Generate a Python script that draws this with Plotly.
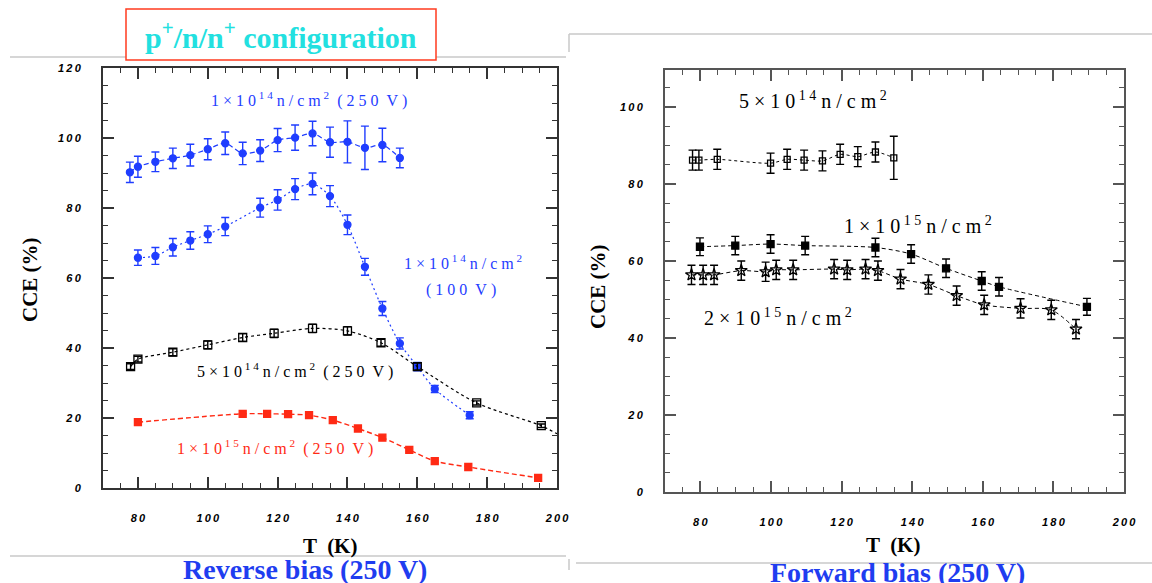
import plotly.graph_objects as go

# ---------------- Reverse bias panel data ----------------
rev_T_1e14_250 = [77.7, 80, 85, 90, 95, 100, 105, 110, 115, 120, 125, 130, 135, 140, 145, 150, 155]
rev_cce_1e14_250 = [90.2, 91.8, 93.2, 94.2, 95.1, 96.8, 98.5, 95.6, 96.4, 99.4, 100.1, 101.3, 98.8, 98.9, 97.2, 98.0, 94.3]
rev_err_1e14_250 = [2.9, 3.0, 2.8, 2.9, 3.1, 3.0, 3.2, 3.2, 3.1, 3.3, 3.6, 3.5, 4.3, 6.0, 6.2, 4.8, 2.8]

rev_T_1e14_100 = [80, 85, 90, 95, 100, 105, 115, 120, 125, 130, 135, 140, 145, 150, 155, 160, 165, 175]
rev_cce_1e14_100 = [65.8, 66.3, 68.8, 70.7, 72.5, 74.7, 80.1, 82.3, 85.4, 86.9, 83.4, 75.2, 63.2, 51.3, 41.3, 34.7, 28.3, 20.8]
rev_err_1e14_100 = [2.2, 2.4, 2.5, 2.5, 2.4, 2.6, 2.7, 2.9, 3.0, 3.1, 3.0, 2.8, 2.4, 2.0, 1.6, 1.2, 1.0, 1.0]

rev_T_5e14 = [77.9, 80, 90, 100, 110, 119, 130, 140, 149.6, 160, 177, 195.5]
rev_cce_5e14 = [34.7, 36.8, 38.8, 40.9, 43.0, 44.2, 45.6, 44.9, 41.5, 34.7, 24.3, 17.8]
rev_err_5e14 = [0.8, 0.8, 1.0, 1.1, 1.1, 1.2, 1.2, 1.2, 1.0, 1.0, 0.6, 0.5]
rev_fit_tail_T_5e14 = [200]
rev_fit_tail_cce_5e14 = [15.5]

rev_T_1e15 = [80, 110, 117, 123, 129, 135.8, 143, 150, 157.7, 165, 174.6, 194.6]
rev_cce_1e15 = [18.8, 21.2, 21.2, 21.1, 20.8, 19.4, 17.0, 14.4, 10.9, 7.7, 6.0, 2.9]

# ---------------- Forward bias panel data ----------------
fwd_T_5e14 = [77.8, 79.6, 84.8, 99.9, 104.6, 109.4, 114.6, 119.6, 124.6, 129.6, 134.8]
fwd_cce_5e14 = [86.2, 86.2, 86.4, 85.4, 86.4, 86.2, 86.0, 87.7, 87.1, 88.3, 86.8]
fwd_err_5e14 = [2.6, 2.6, 2.6, 2.6, 2.6, 2.6, 2.6, 2.6, 2.6, 2.6, 5.6]

fwd_T_1e15 = [79.9, 89.9, 99.9, 109.7, 129.6, 139.7, 149.6, 159.7, 164.6, 189.5]
fwd_cce_1e15 = [63.7, 64.0, 64.4, 64.0, 63.5, 61.8, 58.1, 54.8, 53.3, 48.1]
fwd_err_1e15 = [2.3, 2.4, 2.4, 2.4, 2.4, 2.4, 2.4, 2.4, 2.4, 2.2]

fwd_T_2e15 = [77.5, 80.8, 83.9, 91.6, 98.5, 101.5, 106.3, 117.9, 121.6, 126.8, 130.3, 136.7,
              144.6, 152.6, 160.4, 170.7, 179.4, 186.4]
fwd_cce_2e15 = [56.4, 56.4, 56.4, 57.5, 57.2, 57.7, 57.7, 57.9, 57.7, 57.9, 57.5, 55.3,
                53.9, 51.0, 48.6, 47.7, 47.3, 42.3]
fwd_err_2e15 = [2.5] * len(fwd_T_2e15)

x_tick_vals = [80, 100, 120, 140, 160, 180, 200]
rev_y_tick_vals = [0, 20, 40, 60, 80, 100, 120]
fwd_y_tick_vals = [0, 20, 40, 60, 80, 100]

W, H = 1152, 583
BLUE = "#1f3dff"
RED = "#ff2a14"
SERIF = "Liberation Serif"
THIN = "\u2009"
WIDE = "\u2005"


def px(x):
    return x / W


def py(y):
    return 1 - y / H


def spaced(s, sep=THIN):
    """Insert small spaces between the visible characters of a label."""
    out, in_tag, first = "", False, True
    for ch in s:
        if ch == "<":
            in_tag = True
        if in_tag:
            out += ch
            if ch == ">":
                in_tag = False
            continue
        if not first and ch != " ":
            out += sep
        out += ch
        first = False
    return out


fig = go.Figure()


def add_series(T, cce, err, xa, ya, color, symbol, size, dash, lw=1.2, fill=True, line_tail=None):
    lx, ly = list(T), list(cce)
    if line_tail:
        lx += line_tail[0]
        ly += line_tail[1]
    fig.add_trace(go.Scatter(
        x=lx, y=ly, mode="lines", xaxis=xa, yaxis=ya, showlegend=False,
        line=dict(color=color, width=lw, dash=dash, shape="spline", smoothing=0.8),
        hoverinfo="skip"))
    fig.add_trace(go.Scatter(
        x=T, y=cce, mode="markers", xaxis=xa, yaxis=ya, showlegend=False,
        marker=dict(symbol=symbol, size=size, color=color if fill else "white",
                    line=dict(color=color, width=1.3)),
        error_y=dict(type="data", array=err, visible=True,
                     color=color, thickness=1.4, width=4) if err is not None else None))


# Reverse bias panel
add_series(rev_T_1e14_250, rev_cce_1e14_250, rev_err_1e14_250, "x", "y", BLUE, "circle", 7, "5px,3px")
add_series(rev_T_1e14_100, rev_cce_1e14_100, rev_err_1e14_100, "x", "y", BLUE, "circle", 7, "2px,3px")
add_series(rev_T_5e14, rev_cce_5e14, rev_err_5e14, "x", "y", "black", "square-open", 8, "3px,3px",
           line_tail=(rev_fit_tail_T_5e14, rev_fit_tail_cce_5e14))
add_series(rev_T_1e15, rev_cce_1e15, None, "x", "y", RED, "square", 7, "5px,3px", lw=1.4)

# Forward bias panel
add_series(fwd_T_5e14, fwd_cce_5e14, fwd_err_5e14, "x2", "y2", "black", "square-open", 6, "3px,3px", lw=1.0)
add_series(fwd_T_1e15, fwd_cce_1e15, fwd_err_1e15, "x2", "y2", "black", "square", 7, "4px,3px", lw=1.0)
add_series(fwd_T_2e15, fwd_cce_2e15, fwd_err_2e15, "x2", "y2", "black", "star-open", 9, "4px,3px", lw=1.0)


def axis(domain, rng, tickvals, anchor, color, standoff):
    return dict(
        domain=domain, range=rng, anchor=anchor, automargin=False,
        showline=True, linecolor=color, linewidth=2, mirror="ticks",
        ticks="inside", ticklen=11, tickwidth=1.5, tickcolor=color,
        tickvals=tickvals, ticktext=[spaced(str(v)) for v in tickvals],
        tickfont=dict(family="Liberation Sans", size=11, color="black", weight="bold", style="italic"),
        ticklabelstandoff=standoff,
        minor=dict(ticks="inside", ticklen=5, tickwidth=1.2, tickcolor=color, dtick=5, tick0=0, showgrid=False),
        showgrid=False, zeroline=False, fixedrange=True,
    )


fig.update_layout(
    width=W, height=H, autosize=False,
    margin=dict(l=0, r=0, t=0, b=0, pad=0, autoexpand=False),
    paper_bgcolor="white", plot_bgcolor="white",
    xaxis=axis([px(103), px(557)], [70, 200], x_tick_vals, "y", "#333", 19),
    yaxis=axis([py(488), py(68)], [0, 120], rev_y_tick_vals, "x", "#333", 18),
    xaxis2=axis([px(665), px(1124)], [70, 200], x_tick_vals, "y2", "#555", 19),
    yaxis2=axis([py(492), py(70)], [0, 109.6], fwd_y_tick_vals, "x2", "#555", 18),
)

# Thin grey frame lines around the two panels
for x0, y0, x1, y1 in [(10, 57, 566, 57), (10, 556, 566, 556),
                       (569, 34, 1152, 34), (569, 34, 569, 52),
                       (576, 563, 1152, 563), (569, 559, 569, 570)]:
    fig.add_shape(type="line", xref="paper", yref="paper",
                  x0=px(x0), y0=py(y0), x1=px(x1), y1=py(y1),
                  line=dict(color="#c8c8c8", width=1.5), layer="below")

# Configuration banner
fig.add_shape(type="rect", xref="paper", yref="paper",
              x0=px(126), y0=py(60), x1=px(436), y1=py(9),
              line=dict(color="#ff3b1f", width=1.5), fillcolor="white")
fig.add_annotation(xref="paper", yref="paper", x=px(281), y=py(35),
                   xanchor="center", yanchor="middle",
                   text="p<sup>+</sup>/n/n<sup>+</sup> configuration", showarrow=False,
                   font=dict(family=SERIF, size=30, color="#22e0e0", weight="bold"))


def label(text, x, y, xref, yref, color, size, xanchor="left", sep=None, weight="normal", **kw):
    fig.add_annotation(x=x, y=y, xref=xref, yref=yref, showarrow=False,
                       xanchor=xanchor, yanchor="middle",
                       text=spaced(text, sep) if sep else text,
                       font=dict(family=SERIF, size=size, color=color, weight=weight), **kw)


# Reverse bias labels
label("1×10<sup>14</sup>n/cm<sup>2</sup> (250 V)", 100.3, 111, "x", "y", BLUE, 16, sep=WIDE)
label("1×10<sup>14</sup>n/cm<sup>2</sup>", 173, 64.6, "x", "y", BLUE, 16, xanchor="center", sep=WIDE)
label("(100 V)", 172.6, 56.6, "x", "y", BLUE, 16, xanchor="center", sep=WIDE)
label("5×10<sup>14</sup>n/cm<sup>2</sup> (250 V)", 96.3, 33.7, "x", "y", "black", 16, sep=WIDE)
label("1×10<sup>15</sup>n/cm<sup>2</sup> (250 V)", 90.6, 11.7, "x", "y", RED, 16, sep=WIDE)

# Forward bias labels
label("5×10<sup>14</sup>n/cm<sup>2</sup>", 90.3, 101.8, "x2", "y2", "black", 20, sep=WIDE)
label("1×10<sup>15</sup>n/cm<sup>2</sup>", 120.1, 69.4, "x2", "y2", "black", 20, sep=WIDE)
label("2×10<sup>15</sup>n/cm<sup>2</sup>", 80.4, 45.5, "x2", "y2", "black", 20, sep=WIDE)

# Axis titles
for xc, yc in [(330, 546), (893, 545)]:
    label("T  (K)", px(xc), py(yc), "paper", "paper", "black", 21, xanchor="center", weight="bold")
for xc, yc in [(30, 280), (598, 287)]:
    label("CCE (%)", px(xc), py(yc), "paper", "paper", "black", 21, xanchor="center",
          weight="bold", textangle=-90)

# Panel captions
for text, xc, yc in [("Reverse bias (250 V)", 305, 569), ("Forward bias (250 V)", 897, 572)]:
    label(text, px(xc), py(yc), "paper", "paper", "#1f3df0", 28, xanchor="center", weight="bold")

fig.write_html("out.html")
